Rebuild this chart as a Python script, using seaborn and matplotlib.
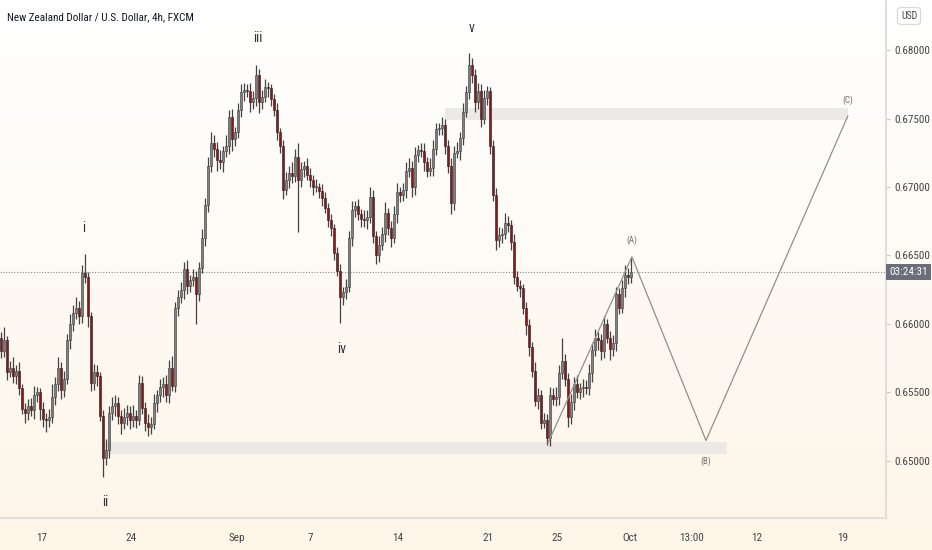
import numpy as np
import pandas as pd
import matplotlib
matplotlib.use("Agg")
import matplotlib.pyplot as plt
import seaborn as sns
from matplotlib import font_manager
from matplotlib.patches import Rectangle

# closes of the 4h candles, in pips (0.6580 -> 6580)
first_open = 6590
closes = [
    6580, 6588, 6565, 6568, 6562, 6566, 6553, 6538, 6535, 6540,
    6537, 6548, 6550, 6538, 6531, 6530, 6532, 6547, 6556, 6568,
    6552, 6560, 6588, 6600, 6608, 6612, 6606, 6637, 6634, 6606,
    6557, 6565, 6562, 6533, 6502, 6508, 6535, 6540, 6542, 6533,
    6528, 6532, 6535, 6530, 6533, 6530, 6557, 6539, 6528, 6525,
    6527, 6542, 6548, 6554, 6556, 6548, 6568, 6555, 6612, 6620,
    6625, 6640, 6628, 6632, 6634, 6622, 6641, 6663, 6687, 6715,
    6732, 6728, 6720, 6718, 6726, 6730, 6751, 6735, 6740, 6756,
    6769, 6771, 6770, 6762, 6765, 6782, 6762, 6766, 6773, 6772,
    6764, 6756, 6740, 6730, 6698, 6705, 6710, 6708, 6722, 6705,
    6713, 6715, 6709, 6705, 6700, 6700, 6697, 6692, 6685, 6676,
    6670, 6652, 6639, 6620, 6623, 6627, 6663, 6683, 6686, 6680,
    6677, 6676, 6678, 6693, 6664, 6650, 6658, 6666, 6681, 6670,
    6663, 6680, 6696, 6694, 6698, 6712, 6714, 6700, 6723, 6727,
    6726, 6718, 6712, 6714, 6728, 6742, 6743, 6745, 6730, 6715,
    6688, 6725, 6726, 6736, 6755, 6769, 6789, 6782, 6762, 6770,
    6750, 6765, 6770, 6730, 6694, 6661, 6665, 6666, 6674, 6672,
    6660, 6634, 6628, 6626, 6612, 6599, 6583, 6566, 6544, 6548,
    6528, 6530, 6517, 6548, 6545, 6547, 6564, 6573, 6560, 6532,
    6543, 6556, 6550, 6553, 6554, 6553, 6564, 6581, 6590, 6588,
    6580, 6600, 6590, 6582, 6586, 6622, 6612, 6626, 6636, 6634,
    6638,
]
# wick lengths above / below the body, in pips
wick_up = [
    4, 10, 3, 5, 8, 4, 6, 3, 4, 5,
    6, 7, 4, 3, 5, 4, 6, 9, 5, 8,
    4, 6, 5, 7, 6, 8, 5, 6, 14, 4,
    3, 6, 5, 3, 4, 8, 5, 7, 6, 5,
    4, 7, 6, 5, 8, 4, 6, 5, 4, 6,
    5, 7, 4, 6, 5, 7, 6, 9, 4, 5,
    6, 5, 7, 4, 6, 5, 4, 6, 5, 7,
    8, 6, 5, 7, 4, 8, 5, 6, 4, 5,
    6, 5, 4, 6, 5, 7, 4, 5, 6, 4,
    3, 4, 5, 3, 4, 6, 5, 8, 6, 10,
    5, 4, 6, 5, 4, 6, 3, 5, 4, 3,
    4, 3, 4, 5, 4, 6, 5, 7, 4, 5,
    4, 6, 5, 7, 5, 4, 6, 5, 8, 4,
    5, 6, 7, 4, 5, 6, 7, 5, 6, 4,
    5, 6, 4, 7, 6, 5, 4, 6, 5, 4,
    6, 5, 7, 4, 6, 5, 9, 5, 4, 6,
    5, 6, 4, 3, 4, 5, 6, 4, 7, 5,
    4, 6, 5, 4, 3, 4, 5, 4, 6, 5,
    4, 5, 4, 6, 5, 7, 6, 17, 5, 4,
    6, 5, 7, 4, 6, 5, 7, 5, 6, 4,
    5, 6, 4, 5, 6, 5, 4, 6, 7, 5,
    11,
]
wick_dn = [
    5, 4, 6, 4, 5, 6, 5, 4, 7, 5,
    4, 6, 5, 8, 6, 9, 5, 4, 6, 5,
    7, 5, 4, 6, 5, 4, 6, 5, 4, 8,
    6, 5, 7, 4, 14, 5, 6, 5, 7, 6,
    8, 5, 6, 7, 5, 6, 4, 5, 6, 7,
    5, 4, 6, 5, 7, 5, 6, 4, 5, 6,
    5, 7, 6, 5, 4, 22, 5, 4, 6, 5,
    4, 6, 8, 5, 7, 4, 6, 9, 5, 4,
    5, 6, 4, 7, 5, 6, 8, 5, 4, 6,
    5, 4, 6, 5, 7, 4, 6, 5, 4, 38,
    5, 6, 4, 5, 6, 4, 5, 6, 4, 5,
    6, 5, 4, 19, 6, 5, 4, 6, 5, 4,
    6, 5, 7, 4, 5, 6, 5, 4, 6, 5,
    7, 4, 6, 5, 4, 6, 5, 7, 6, 5,
    4, 6, 5, 4, 6, 5, 4, 5, 6, 5,
    8, 5, 4, 6, 5, 4, 5, 6, 7, 5,
    6, 4, 5, 6, 4, 7, 5, 6, 4, 5,
    6, 5, 4, 6, 5, 7, 6, 5, 4, 6,
    5, 4, 5, 6, 4, 5, 6, 4, 5, 7,
    5, 6, 4, 5, 6, 4, 5, 6, 4, 7,
    6, 5, 4, 8, 5, 6, 5, 4, 6, 5,
    4,
]

# x axis labels and the candle slot they sit on
tick_labels = ["17", "24", "Sep", "7", "14", "21", "25", "Oct", "13:00", "12", "19"]
tick_slots = [13.7, 43.3, 78.7, 103, 132.3, 162.3, 185.3, 209.7, 230.3, 252, 280.7]

# Elliott wave labels: text, candle slot, price
wave_text = ["i", "ii", "iii", "iv", "v"]
wave_slot = [27.7, 34.7, 85.7, 113.7, 157]
wave_price = [0.6670, 0.6470, 0.6809, 0.6582, 0.6816]

# projected ABC path
proj_names = ["", "(A)", "(B)", "(C)"]
proj_slot = [182.3, 210.3, 235, 282.3]
proj_price = [0.6513, 0.6649, 0.6515, 0.6752]

# support / resistance zones: start slot, end slot, low, high
zones = [(34.7, 242, 0.65051, 0.65138), (148, 282.3, 0.67489, 0.67577)]

current_price = 0.6638
countdown = "03:24:31"

# ---- fonts
sns.set_theme(style="white")
available = {f.name for f in font_manager.fontManager.ttflist}
narrow = [f for f in ["Liberation Sans Narrow", "Roboto Condensed", "Liberation Sans"] if f in available]
plt.rcParams["font.family"] = narrow + ["DejaVu Sans"]

# ---- candle table
opens = [first_open] + closes[:-1]
df = pd.DataFrame({"open": opens, "close": closes, "up": wick_up, "dn": wick_dn})
df["high"] = df[["open", "close"]].max(axis=1) + df["up"]
df["low"] = df[["open", "close"]].min(axis=1) - df["dn"]
for col in ["open", "close", "high", "low"]:
    df[col] = df[col] / 10000.0
df["idx"] = np.arange(len(df))
rising = df["close"] >= df["open"]

W, H = 932, 550
fig = plt.figure(figsize=(W / 100, H / 100), dpi=100)

# cream gradient background
bg = fig.add_axes([0, 0, 1, 1], zorder=-5)
grad = np.linspace(0, 1, 256).reshape(-1, 1)
top = np.array([1.0, 1.0, 1.0])
bot = np.array([0.992, 0.961, 0.91])
img = top + (bot - top) * grad[:, :, None]
bg.imshow(img, aspect="auto", extent=[0, 1, 0, 1], origin="upper")
bg.axis("off")

ax = fig.add_axes([0, 32 / H, 886 / W, 518 / H])
ax.set_facecolor("none")
ax.set_xlim(-0.333, 295)
ax.set_ylim(0.645839, 0.683650)

# zones
for x0, x1, lo, hi in zones:
    ax.add_patch(Rectangle((x0, lo), x1 - x0, hi - lo, facecolor="#e8e6e2",
                           edgecolor="none", alpha=0.8, zorder=1))

# dotted current price line
ax.axhline(current_price, color="#8a8a8a", lw=0.8, ls=(0, (1, 1.5)), zorder=1)

# candles
ax.vlines(df["idx"], df["low"], df["high"], color="#434343", lw=0.9, zorder=2)
body_min = 0.00004
up = df[rising]
dn = df[~rising]
ax.bar(up["idx"], np.maximum(up["close"] - up["open"], body_min), bottom=up["open"],
       width=0.75, color="#7f7f7f", edgecolor="#3d3d3d", linewidth=0.4, zorder=3)
ax.bar(dn["idx"], np.maximum(dn["open"] - dn["close"], body_min), bottom=dn["close"],
       width=0.75, color="#7d1c1c", edgecolor="#3a1818", linewidth=0.4, zorder=3)

# projected path
sns.lineplot(x=proj_slot, y=proj_price, sort=False, color="#909090", lw=0.9, ax=ax, zorder=4)
offsets = [0, 0.0012, -0.0015, 0.0011]
for name, xs, yp, off in zip(proj_names, proj_slot, proj_price, offsets):
    if name:
        ax.text(xs, yp + off, name, ha="center", va="center", fontsize=6.5, color="#707070")

for t, xs, yp in zip(wave_text, wave_slot, wave_price):
    ax.text(xs, yp, t, ha="center", va="center", fontsize=10, color="#333333")

# axes styling
for side in ["top", "left"]:
    ax.spines[side].set_visible(False)
for side in ["bottom", "right"]:
    ax.spines[side].set_color("#e2dfd9")
    ax.spines[side].set_linewidth(1.5)

ax.yaxis.tick_right()
ax.set_yticks([0.650, 0.655, 0.660, 0.665, 0.670, 0.675, 0.680])
ax.set_yticklabels([f"{v:.5f}" for v in ax.get_yticks()])
ax.tick_params(axis="y", direction="out", length=3, width=0.8, color="#c9c6c0",
               labelsize=8, labelcolor="#444444", pad=3)
ax.set_xticks(tick_slots)
ax.set_xticklabels(tick_labels)
ax.tick_params(axis="x", direction="out", length=3, width=0.8, color="#c9c6c0",
               labelsize=8, labelcolor="#444444", pad=8)
ax.grid(False)
ax.set_xlabel("")
ax.set_ylabel("")

# title
fig.text(7 / W, 1 - 17 / H, "New Zealand Dollar / U.S. Dollar, 4h, FXCM",
         fontsize=8, color="#131722", va="center", ha="left")

# currency badge
fig.text(909 / W, 1 - 16 / H, "USD", fontsize=7, color="#444444", ha="center", va="center",
         bbox=dict(boxstyle="round,pad=0.35", fc="white", ec="#d8d8d8", lw=0.8))

# countdown badge on price scale
fig.text(889 / W, 1 - 272 / H, countdown, fontsize=8, color="white", ha="left", va="center",
         bbox=dict(boxstyle="square,pad=0.3", fc="#6b6e78", ec="none"))

fig.savefig("out.png", dpi=100)
